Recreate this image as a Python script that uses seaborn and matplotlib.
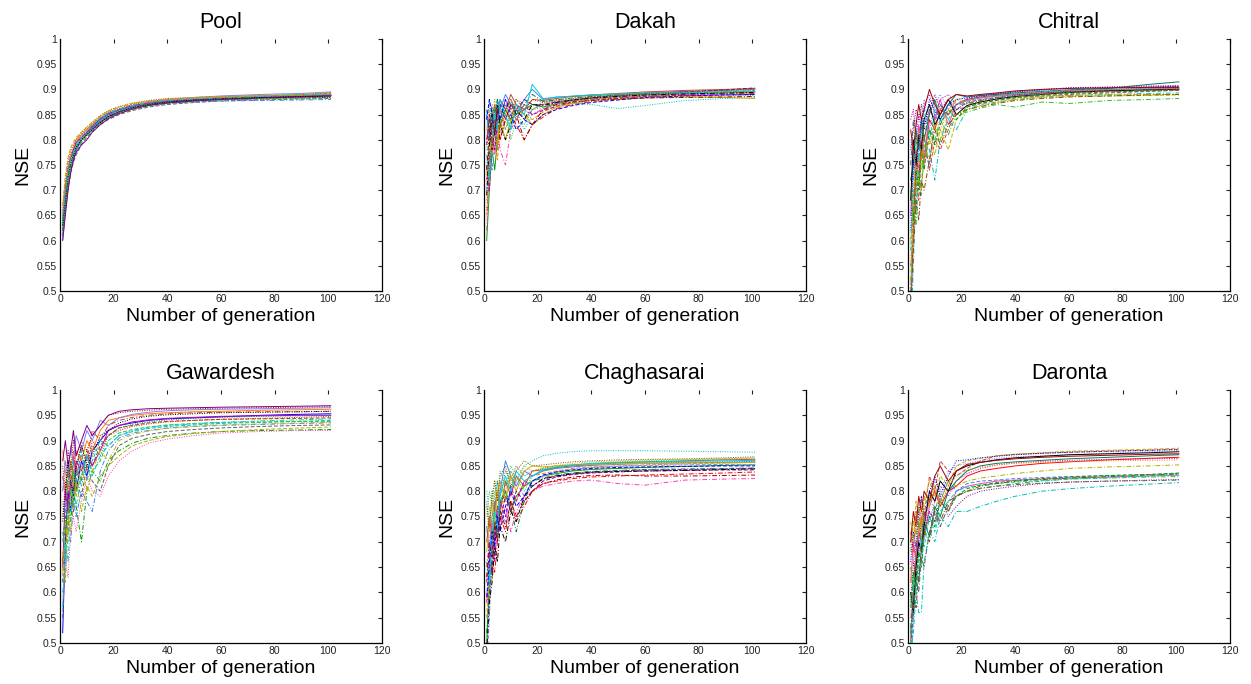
import numpy as np
import pandas as pd
import matplotlib
matplotlib.use("Agg")
import matplotlib.pyplot as plt
import seaborn as sns

sns.set_theme(style="white")
plt.rcParams['font.family'] = ['Liberation Sans', 'DejaVu Sans']
plt.rcParams['text.color'] = 'black'
plt.rcParams['axes.labelcolor'] = 'black'

# generation numbers at which values were read
gens = [1, 2, 3, 4, 5, 6, 8, 10, 12, 15, 18, 22, 27, 33, 40, 50, 60, 75, 90, 101]

titles = ["Pool", "Dakah", "Chitral", "Gawardesh", "Chaghasarai", "Daronta"]

pool = [
    [.61,.66,.71,.74,.76,.78,.80,.81,.82,.835,.845,.855,.863,.870,.875,.878,.881,.884,.886,.889],
    [.64,.69,.73,.76,.78,.79,.805,.815,.825,.84,.85,.858,.866,.872,.877,.880,.882,.885,.888,.892],
    [.66,.70,.75,.77,.785,.80,.81,.82,.83,.845,.855,.862,.870,.876,.880,.883,.885,.887,.890,.894],
    [.63,.68,.72,.75,.77,.785,.80,.815,.825,.835,.848,.856,.864,.870,.874,.877,.879,.881,.883,.885],
    [.65,.71,.74,.765,.78,.795,.81,.82,.832,.842,.852,.860,.868,.874,.879,.882,.884,.886,.888,.890],
    [.62,.67,.70,.735,.755,.77,.79,.805,.815,.83,.84,.85,.858,.865,.870,.874,.877,.879,.881,.882],
    [.67,.72,.76,.78,.79,.80,.815,.825,.835,.848,.858,.866,.873,.878,.882,.884,.886,.888,.889,.891],
    [.60,.66,.70,.74,.76,.775,.795,.81,.82,.833,.845,.853,.862,.868,.872,.875,.877,.878,.879,.880],
    [.65,.70,.745,.77,.78,.79,.80,.81,.822,.838,.85,.859,.867,.874,.880,.884,.887,.890,.892,.895],
    [.63,.69,.73,.76,.775,.785,.80,.81,.823,.84,.85,.857,.865,.871,.876,.879,.881,.883,.885,.887],
    [.66,.71,.75,.775,.79,.80,.81,.82,.828,.842,.853,.861,.869,.875,.879,.882,.884,.886,.887,.888],
    [.62,.68,.72,.75,.765,.78,.80,.812,.822,.836,.847,.855,.863,.869,.874,.878,.880,.882,.884,.886],
    [.64,.70,.74,.765,.78,.795,.805,.815,.827,.842,.852,.860,.868,.873,.877,.880,.882,.884,.886,.888],
    [.61,.67,.71,.745,.765,.78,.795,.808,.818,.832,.843,.852,.86,.867,.872,.876,.879,.881,.882,.883],
    [.62,.68,.725,.755,.77,.785,.80,.812,.823,.838,.849,.857,.865,.871,.875,.879,.882,.885,.887,.889],
    [.65,.70,.74,.77,.785,.80,.812,.822,.832,.846,.856,.864,.871,.876,.880,.883,.885,.887,.889,.891],
    [.60,.65,.70,.735,.76,.775,.79,.80,.815,.83,.842,.852,.861,.868,.873,.877,.880,.883,.885,.887],
    [.67,.73,.765,.785,.795,.805,.815,.825,.834,.847,.857,.865,.872,.877,.881,.884,.886,.888,.890,.893],
    [.63,.68,.73,.755,.77,.785,.80,.81,.82,.834,.846,.855,.864,.87,.875,.879,.882,.884,.886,.884],
    [.64,.695,.735,.76,.775,.79,.806,.818,.83,.843,.853,.861,.868,.874,.878,.881,.883,.886,.889,.890],
]

dakah = [
    [.60,.70,.78,.74,.80,.83,.86,.84,.85,.86,.87,.865,.872,.878,.882,.886,.889,.891,.893,.895],
    [.65,.72,.84,.80,.76,.82,.85,.88,.86,.85,.84,.855,.868,.875,.880,.884,.887,.890,.892,.893],
    [.82,.88,.81,.85,.87,.83,.87,.86,.88,.87,.86,.875,.88,.882,.885,.888,.890,.893,.896,.898],
    [.72,.76,.83,.86,.82,.80,.84,.85,.83,.80,.83,.845,.862,.870,.876,.882,.886,.889,.891,.892],
    [.85,.80,.86,.83,.88,.86,.89,.87,.85,.88,.90,.88,.885,.886,.888,.890,.893,.896,.898,.900],
    [.70,.78,.74,.79,.84,.86,.82,.85,.87,.84,.86,.87,.876,.880,.883,.887,.890,.892,.894,.896],
    [.78,.83,.86,.84,.80,.85,.87,.83,.86,.82,.85,.86,.867,.873,.870,.862,.868,.878,.882,.884],
    [.62,.75,.80,.77,.82,.78,.75,.82,.84,.86,.85,.862,.872,.877,.881,.885,.887,.889,.890,.891],
    [.80,.84,.82,.87,.85,.88,.86,.89,.87,.86,.88,.878,.882,.886,.889,.892,.895,.898,.900,.902],
    [.75,.70,.79,.82,.86,.84,.88,.86,.84,.87,.85,.858,.866,.874,.879,.883,.886,.888,.889,.890],
    [.68,.74,.82,.86,.83,.87,.85,.80,.84,.83,.86,.864,.870,.876,.881,.884,.887,.886,.887,.888],
    [.86,.82,.87,.85,.88,.84,.86,.88,.85,.87,.89,.876,.879,.883,.886,.889,.891,.893,.895,.897],
    [.73,.80,.77,.83,.79,.84,.80,.84,.87,.85,.83,.85,.865,.872,.878,.880,.883,.885,.884,.882],
    [.79,.85,.80,.78,.84,.87,.84,.87,.86,.88,.87,.87,.875,.879,.884,.888,.892,.895,.899,.903],
    [.81,.86,.83,.88,.84,.86,.82,.86,.84,.87,.86,.872,.878,.883,.887,.889,.891,.894,.897,.899],
    [.69,.79,.85,.81,.87,.83,.80,.83,.86,.84,.87,.868,.874,.879,.883,.886,.889,.891,.893,.894],
    [.77,.72,.80,.85,.82,.88,.85,.82,.87,.85,.91,.882,.884,.887,.889,.891,.893,.894,.895,.896],
    [.84,.88,.85,.81,.86,.84,.88,.85,.82,.84,.83,.85,.86,.868,.874,.879,.884,.887,.889,.890],
    [.66,.74,.79,.84,.78,.82,.86,.84,.88,.86,.88,.874,.877,.880,.884,.888,.891,.895,.898,.901],
    [.74,.82,.78,.82,.86,.80,.84,.87,.85,.80,.83,.86,.87,.875,.878,.881,.883,.884,.885,.886],
]

chitral = [
    [.45,.62,.78,.72,.80,.76,.84,.82,.86,.85,.87,.88,.885,.888,.890,.893,.896,.898,.900,.902],
    [.50,.70,.66,.76,.82,.78,.75,.85,.83,.87,.86,.875,.88,.884,.888,.892,.895,.898,.900,.903],
    [.80,.72,.84,.79,.85,.88,.82,.87,.89,.86,.88,.885,.89,.892,.895,.898,.900,.903,.905,.907],
    [.40,.55,.70,.74,.69,.80,.78,.72,.80,.84,.82,.86,.87,.875,.880,.885,.888,.890,.892,.893],
    [.65,.78,.74,.83,.80,.75,.86,.84,.88,.83,.87,.878,.883,.887,.891,.895,.898,.900,.901,.901],
    [.55,.60,.72,.68,.77,.81,.74,.80,.78,.82,.86,.865,.872,.878,.883,.887,.890,.893,.896,.898],
    [.84,.86,.80,.85,.82,.87,.89,.85,.88,.89,.87,.882,.888,.892,.896,.900,.903,.905,.907,.908],
    [.48,.66,.63,.73,.71,.78,.82,.80,.84,.81,.85,.855,.863,.870,.865,.875,.872,.878,.880,.882],
    [.72,.75,.82,.78,.84,.80,.85,.88,.84,.87,.89,.885,.888,.890,.893,.896,.899,.902,.910,.915],
    [.60,.68,.76,.72,.70,.76,.80,.77,.82,.78,.84,.86,.868,.874,.880,.884,.886,.887,.888,.889],
    [.78,.82,.86,.84,.87,.83,.86,.89,.86,.88,.86,.873,.878,.884,.889,.893,.896,.899,.903,.906],
    [.52,.64,.70,.77,.74,.79,.76,.83,.80,.85,.88,.87,.876,.880,.884,.887,.888,.889,.890,.890],
    [.68,.80,.75,.81,.78,.84,.87,.83,.85,.88,.85,.868,.875,.881,.886,.890,.894,.897,.899,.900],
    [.58,.73,.80,.76,.83,.86,.80,.86,.87,.84,.87,.878,.884,.887,.891,.895,.898,.900,.902,.904],
    [.62,.76,.72,.80,.84,.82,.88,.86,.84,.87,.88,.883,.887,.891,.895,.899,.903,.904,.905,.906],
    [.46,.58,.68,.64,.72,.70,.76,.82,.79,.83,.85,.86,.866,.872,.878,.882,.885,.887,.889,.890],
    [.82,.78,.83,.87,.84,.86,.90,.87,.85,.88,.89,.887,.89,.893,.897,.900,.902,.903,.904,.904],
    [.70,.64,.74,.70,.78,.74,.82,.79,.83,.86,.84,.865,.873,.879,.884,.889,.892,.895,.897,.899],
    [.56,.70,.78,.82,.76,.83,.79,.84,.82,.86,.88,.876,.882,.886,.890,.894,.897,.899,.901,.902],
    [.75,.84,.80,.78,.83,.80,.86,.84,.87,.85,.87,.872,.878,.883,.887,.891,.894,.896,.898,.899],
]

gawardesh = [
    [.52,.70,.80,.76,.84,.80,.86,.83,.88,.90,.92,.93,.935,.940,.943,.945,.947,.950,.952,.953],
    [.62,.75,.72,.82,.78,.85,.82,.88,.85,.89,.91,.925,.93,.935,.938,.940,.942,.943,.944,.945],
    [.85,.80,.88,.84,.90,.87,.90,.88,.91,.93,.95,.955,.958,.960,.962,.963,.964,.965,.966,.967],
    [.66,.72,.78,.74,.80,.77,.70,.80,.84,.82,.86,.88,.895,.905,.910,.915,.918,.920,.921,.922],
    [.88,.84,.80,.86,.83,.88,.86,.90,.88,.92,.94,.945,.95,.953,.955,.957,.958,.960,.961,.962],
    [.55,.68,.74,.80,.76,.82,.79,.85,.82,.80,.85,.89,.905,.912,.918,.922,.925,.928,.930,.931],
    [.75,.82,.78,.84,.88,.83,.87,.84,.90,.88,.91,.92,.928,.933,.937,.940,.942,.944,.946,.948],
    [.60,.64,.72,.70,.78,.75,.80,.78,.76,.84,.88,.905,.915,.920,.925,.928,.930,.932,.934,.935],
    [.80,.86,.83,.89,.85,.91,.88,.92,.90,.94,.93,.945,.952,.956,.959,.961,.962,.963,.964,.965],
    [.70,.76,.84,.79,.86,.82,.88,.82,.86,.90,.89,.91,.918,.924,.928,.931,.934,.936,.938,.940],
    [.58,.66,.63,.72,.75,.72,.78,.83,.80,.79,.83,.86,.88,.895,.903,.910,.915,.918,.920,.920],
    [.83,.78,.85,.81,.87,.84,.89,.86,.92,.90,.93,.94,.946,.950,.953,.955,.956,.957,.957,.958],
    [.65,.80,.76,.82,.80,.86,.84,.87,.85,.88,.92,.93,.937,.941,.944,.946,.948,.949,.950,.950],
    [.72,.68,.76,.80,.84,.80,.83,.87,.84,.86,.90,.915,.922,.927,.931,.934,.936,.937,.938,.938],
    [.78,.72,.82,.86,.80,.84,.81,.86,.89,.87,.91,.925,.932,.937,.941,.944,.946,.948,.949,.950],
    [.64,.74,.70,.78,.83,.79,.85,.80,.84,.88,.86,.90,.912,.919,.924,.928,.931,.933,.935,.936],
    [.86,.90,.85,.88,.92,.87,.90,.93,.91,.93,.95,.958,.961,.963,.964,.965,.966,.967,.968,.969],
    [.68,.62,.75,.72,.78,.82,.76,.81,.79,.83,.85,.87,.89,.90,.908,.914,.918,.922,.925,.927],
    [.74,.80,.86,.82,.79,.85,.89,.85,.87,.91,.92,.935,.943,.948,.951,.953,.955,.956,.957,.958],
    [.57,.70,.66,.76,.80,.77,.83,.87,.83,.87,.89,.91,.92,.926,.930,.933,.936,.939,.941,.943],
]

chaghasarai = [
    [.50,.62,.70,.74,.72,.78,.80,.76,.79,.81,.82,.83,.835,.840,.843,.845,.847,.849,.851,.852],
    [.55,.66,.63,.72,.76,.73,.82,.80,.78,.82,.83,.835,.84,.845,.848,.850,.852,.854,.856,.857],
    [.78,.72,.80,.76,.82,.79,.84,.82,.85,.83,.84,.845,.85,.852,.854,.855,.856,.857,.858,.859],
    [.60,.58,.66,.64,.70,.75,.72,.78,.74,.77,.80,.815,.82,.825,.828,.830,.832,.834,.836,.838],
    [.73,.68,.75,.78,.74,.80,.86,.83,.81,.84,.83,.84,.845,.848,.851,.853,.855,.856,.857,.858],
    [.45,.55,.68,.72,.70,.76,.74,.80,.82,.79,.82,.83,.838,.843,.847,.849,.851,.852,.853,.853],
    [.80,.76,.72,.79,.82,.77,.80,.84,.82,.85,.86,.87,.875,.878,.880,.880,.880,.879,.878,.877],
    [.65,.70,.74,.69,.76,.73,.77,.72,.76,.79,.80,.81,.815,.82,.822,.815,.812,.822,.824,.825],
    [.70,.75,.71,.77,.80,.76,.82,.79,.83,.81,.84,.842,.847,.850,.853,.856,.858,.860,.862,.863],
    [.58,.64,.70,.66,.74,.78,.75,.81,.78,.82,.81,.825,.83,.834,.837,.840,.842,.843,.844,.845],
    [.75,.80,.77,.82,.78,.84,.81,.85,.83,.80,.83,.84,.846,.851,.855,.858,.860,.862,.864,.866],
    [.52,.60,.66,.74,.71,.77,.80,.77,.72,.78,.82,.826,.832,.836,.839,.841,.843,.844,.845,.846],
    [.68,.73,.78,.74,.80,.82,.78,.83,.80,.84,.85,.848,.85,.852,.853,.854,.855,.856,.856,.857],
    [.62,.68,.64,.71,.77,.74,.79,.76,.80,.78,.80,.82,.828,.833,.836,.838,.840,.841,.842,.842],
    [.72,.77,.73,.80,.76,.82,.79,.84,.82,.85,.84,.846,.851,.855,.858,.860,.862,.863,.864,.865],
    [.48,.58,.62,.69,.66,.73,.70,.76,.74,.79,.81,.824,.83,.835,.838,.839,.840,.841,.843,.844],
    [.66,.62,.72,.76,.73,.79,.83,.80,.84,.82,.83,.843,.848,.852,.855,.857,.858,.859,.860,.861],
    [.59,.66,.72,.69,.75,.72,.77,.80,.77,.79,.82,.832,.838,.842,.845,.847,.848,.849,.850,.850],
    [.77,.73,.79,.82,.78,.83,.85,.81,.84,.86,.85,.852,.855,.858,.860,.862,.863,.864,.866,.868],
    [.63,.70,.67,.73,.70,.76,.73,.78,.75,.78,.80,.815,.822,.828,.831,.832,.830,.830,.831,.832],
]

daronta = [
    [.50,.60,.68,.72,.70,.75,.78,.80,.77,.80,.81,.83,.84,.845,.850,.855,.858,.862,.865,.867],
    [.45,.55,.62,.68,.66,.72,.76,.74,.78,.82,.80,.815,.82,.822,.825,.827,.829,.831,.833,.835],
    [.70,.66,.74,.70,.76,.73,.78,.82,.80,.84,.85,.855,.86,.865,.868,.870,.872,.875,.878,.880],
    [.48,.52,.60,.56,.56,.66,.72,.70,.75,.73,.76,.76,.77,.78,.79,.800,.805,.810,.814,.817],
    [.62,.70,.66,.72,.75,.71,.77,.80,.78,.76,.80,.81,.815,.820,.822,.824,.826,.828,.830,.832],
    [.72,.68,.76,.73,.79,.75,.83,.80,.86,.84,.83,.845,.86,.87,.873,.875,.877,.879,.881,.883],
    [.55,.62,.70,.67,.73,.76,.74,.78,.81,.79,.82,.835,.845,.852,.856,.859,.861,.863,.864,.865],
    [.65,.60,.68,.74,.70,.77,.79,.76,.80,.77,.79,.80,.805,.810,.815,.820,.824,.826,.828,.829],
    [.52,.58,.64,.62,.69,.74,.71,.77,.75,.80,.82,.84,.85,.855,.858,.861,.864,.867,.870,.872],
    [.74,.70,.78,.75,.72,.78,.82,.79,.83,.81,.85,.86,.865,.870,.873,.876,.879,.881,.883,.885],
    [.58,.66,.63,.70,.74,.72,.76,.74,.79,.75,.77,.79,.80,.805,.810,.815,.818,.820,.822,.823],
    [.68,.74,.71,.77,.73,.79,.77,.81,.78,.82,.81,.82,.826,.830,.835,.840,.845,.848,.850,.852],
    [.60,.56,.65,.70,.68,.73,.80,.78,.82,.80,.84,.85,.857,.862,.866,.869,.872,.874,.876,.878],
    [.50,.63,.60,.66,.71,.69,.75,.72,.76,.78,.80,.808,.812,.815,.818,.821,.824,.827,.830,.832],
    [.66,.72,.69,.76,.79,.74,.80,.83,.79,.83,.86,.862,.866,.869,.872,.875,.877,.879,.881,.882],
    [.53,.60,.57,.64,.68,.72,.70,.76,.74,.78,.79,.80,.81,.815,.82,.823,.826,.829,.832,.834],
    [.70,.76,.73,.79,.76,.80,.78,.83,.85,.82,.84,.853,.857,.861,.864,.867,.869,.871,.873,.874],
    [.57,.64,.61,.68,.65,.71,.75,.73,.78,.76,.79,.805,.812,.817,.821,.825,.828,.831,.833,.836],
    [.62,.68,.74,.71,.77,.74,.78,.80,.77,.81,.83,.842,.848,.852,.855,.857,.859,.860,.861,.862],
    [.49,.56,.63,.60,.67,.65,.72,.76,.73,.77,.79,.80,.806,.81,.813,.816,.818,.82,.821,.822],
]

panels = [pool, dakah, chitral, gawardesh, chaghasarai, daronta]

x_ticks = [0, 20, 40, 60, 80, 100, 120]
y_ticks = [0.5, 0.55, 0.6, 0.65, 0.7, 0.75, 0.8, 0.85, 0.9, 0.95, 1.0]
y_tick_labels = ["0.5", "0.55", "0.6", "0.65", "0.7", "0.75", "0.8", "0.85", "0.9", "0.95", "1"]

line_colors = ['#0000ff', '#00a000', '#ff0000', '#00bfbf', '#bf00bf', '#c8b400',
               '#000000', '#8a4b00', '#ff8000', '#4080ff', '#ff40b0', '#30c030',
               '#800080', '#00d0d0', '#a00000', '#606060', '#8080ff', '#d04040',
               '#00804f', '#b0b000']
dash_styles = ["", (4, 2), (1, 1.5), (5, 2, 1, 2)]

W, H = 1251, 684
fig = plt.figure(figsize=(W / 100, H / 100), dpi=100)

col_left = [60, 484, 908]
ax_w = 322
row_top = [39, 390]
ax_h = [252, 253]

for i, (title, runs) in enumerate(zip(titles, panels)):
    r, c = divmod(i, 3)
    left = col_left[c] / W
    bottom = 1 - (row_top[r] + ax_h[r]) / H
    ax = fig.add_axes([left, bottom, ax_w / W, ax_h[r] / H])

    rows = []
    for k, vals in enumerate(runs):
        for g, v in zip(gens, vals):
            rows.append({"gen": g, "nse": v, "run": f"r{k}"})
    df = pd.DataFrame(rows)
    runs_names = [f"r{k}" for k in range(len(runs))]
    pal = {n: line_colors[(k * 7 + c) % len(line_colors)] for k, n in enumerate(runs_names)}
    dsh = {n: dash_styles[k % len(dash_styles)] for k, n in enumerate(runs_names)}
    sns.lineplot(data=df, x="gen", y="nse", hue="run", style="run",
                 palette=pal, dashes=dsh, estimator=None, sort=False,
                 linewidth=0.7, legend=False, ax=ax)

    ax.set_xlim(0, 120)
    ax.set_ylim(0.5, 1.0)
    ax.set_xticks(x_ticks)
    ax.set_yticks(y_ticks)
    ax.set_yticklabels(y_tick_labels)
    ax.tick_params(direction='in', length=3, width=0.8, labelsize=7.5,
                   labelcolor='#222222', top=True, right=True, pad=2,
                   color='#222222')
    for s in ["left", "bottom", "right"]:
        ax.spines[s].set_visible(True)
        ax.spines[s].set_color('black')
        ax.spines[s].set_linewidth(0.9)
    ax.spines["top"].set_visible(False)
    ax.set_title(title, fontsize=15.5, pad=8, color='black')
    ax.set_xlabel("Number of generation", fontsize=14, labelpad=3)
    ax.set_ylabel("NSE", fontsize=14, labelpad=4)
    ax.set_facecolor('white')

fig.savefig("out.png", dpi=100, facecolor='white')
